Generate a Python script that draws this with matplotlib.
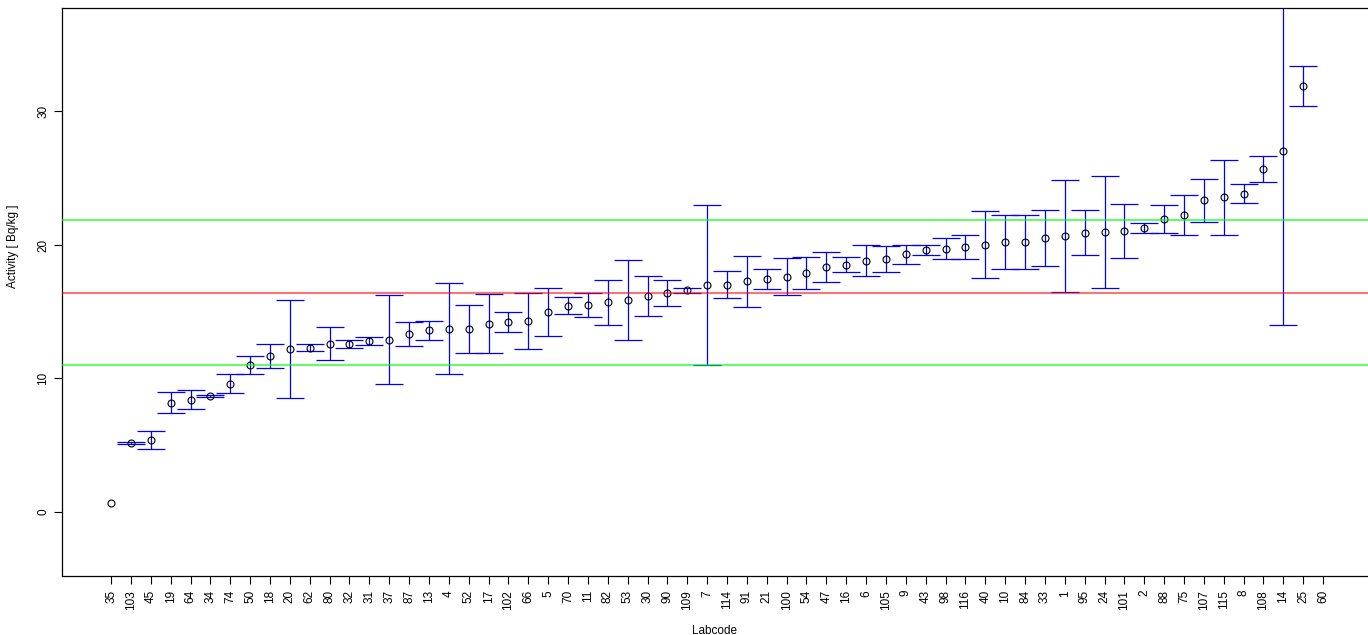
import numpy as np
import matplotlib.pyplot as plt

plt.rcParams['font.family'] = ['Liberation Sans', 'DejaVu Sans']

# lab codes in plotting order
labcodes = ['35', '103', '45', '19', '64', '34', '74', '50', '18', '20',
            '62', '80', '32', '31', '37', '87', '13', '4', '52', '17',
            '102', '66', '5', '70', '11', '82', '53', '30', '90', '109',
            '7', '114', '91', '21', '100', '54', '47', '16', '6', '105',
            '9', '43', '98', '116', '40', '10', '84', '33', '1', '95',
            '24', '101', '2', '88', '75', '107', '115', '8', '108', '14',
            '25', '60']

# reported activity
activity = [0.65, 5.17, 5.39, 8.19, 8.39, 8.69, 9.61, 11.01, 11.71, 12.21,
            12.31, 12.61, 12.61, 12.81, 12.91, 13.31, 13.61, 13.71, 13.71, 14.11,
            14.23, 14.3, 15.0, 15.43, 15.5, 15.7, 15.9, 16.2, 16.43, 16.6,
            17.0, 17.03, 17.28, 17.45, 17.63, 17.93, 18.33, 18.53, 18.83, 18.93,
            19.3, 19.63, 19.73, 19.83, 20.03, 20.22, 20.22, 20.55, 20.67, 20.9,
            21.0, 21.05, 21.25, 21.95, 22.27, 23.37, 23.57, 23.82, 25.7, 27.07,
            31.88, np.nan]

# lower / upper ends of the uncertainty bars
low = [np.nan, 5.07, 4.72, 7.39, 7.69, 8.59, 8.89, 10.31, 10.81, 8.51,
       12.06, 11.36, 12.31, 12.51, 9.59, 12.41, 12.91, 10.31, 11.89, 11.89,
       13.48, 12.19, 13.21, 14.8, 14.6, 14.0, 12.91, 14.7, 15.4, 16.38,
       11.03, 16.03, 15.38, 16.7, 16.23, 16.73, 17.23, 17.95, 17.65, 17.95,
       18.55, 19.23, 18.93, 18.93, 17.53, 18.23, 18.23, 18.4, 16.45, 19.25,
       16.78, 19.03, 20.87, 20.93, 20.75, 21.75, 20.75, 23.12, 24.7, 14.0,
       30.4, np.nan]
high = [np.nan, 5.24, 6.07, 8.99, 9.11, 8.79, 10.34, 11.69, 12.61, 15.9,
        12.56, 13.83, 12.88, 13.11, 16.23, 14.21, 14.3, 17.13, 15.53, 16.3,
        14.98, 16.4, 16.8, 16.08, 16.43, 17.4, 18.9, 17.7, 17.4, 16.8,
        23.02, 18.03, 19.18, 18.23, 19.03, 19.13, 19.45, 19.13, 20.0, 19.95,
        20.03, 20.03, 20.5, 20.73, 22.52, 22.27, 22.27, 22.6, 24.9, 22.65,
        25.2, 23.05, 21.65, 22.97, 23.75, 24.97, 26.37, 24.55, 26.7, 40.1,
        33.38, np.nan]

ref_value = 16.42
ref_upper = 21.85
ref_lower = 11.0

x = np.arange(len(labcodes))
act = np.array(activity)
yerr = [act - np.array(low), np.array(high) - act]

fig = plt.figure(figsize=(13.68, 6.35), dpi=100)
ax = fig.add_axes([0.0453, 0.0929, 0.9547, 0.8945])

ax.errorbar(x, act, yerr=yerr, fmt='none', ecolor='blue', elinewidth=0.9,
            capsize=10, capthick=0.9, zorder=2)
ax.plot(x, act, 'o', mfc='none', mec='black', ms=5, mew=0.8, zorder=3)

ax.axhline(ref_value, color='red', alpha=0.55, lw=1.5, zorder=4)
ax.axhline(ref_upper, color='lime', alpha=0.8, lw=1.1, zorder=4)
ax.axhline(ref_lower, color='lime', alpha=0.8, lw=1.1, zorder=4)

ax.set_xlim(-2.47, 63.26)
ax.set_ylim(-4.8, 37.75)
ax.set_xticks(x)
ax.set_xticklabels(labcodes, rotation=90, fontsize=8.5)
ax.set_yticks([0, 10, 20, 30])
ax.set_yticklabels(['0', '10', '20', '30'], rotation=90, va='center', fontsize=8.5)
ax.tick_params(length=6, width=0.8)
ax.tick_params(axis='x', pad=4)
ax.tick_params(axis='y', pad=3)

ax.spines['right'].set_visible(False)
for s in ['left', 'bottom', 'top']:
    ax.spines[s].set_linewidth(0.9)

ax.set_xlabel('Labcode', fontsize=8.5)
ax.xaxis.set_label_coords(0.5, -0.086)
ax.set_ylabel('Activity [ Bq/kg ]', fontsize=8.5)
ax.yaxis.set_label_coords(-0.033, 0.58)

fig.savefig('out.png', dpi=100)
